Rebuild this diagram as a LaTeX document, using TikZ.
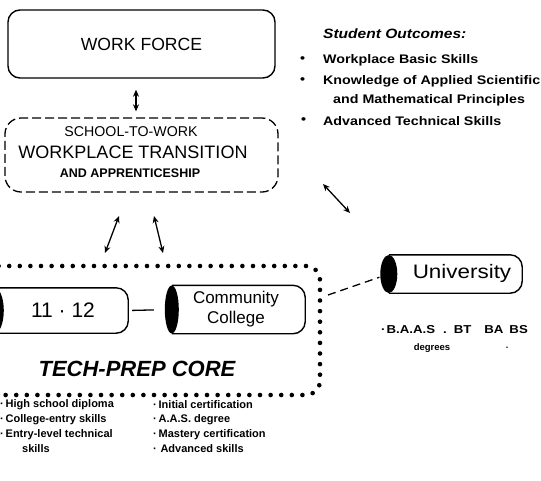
\documentclass[tikz,border=0pt]{standalone}
\usepackage{fontspec}
\setmainfont{Liberation Sans}
\newfontfamily\scan[FakeStretch=1.15]{Liberation Sans}
\usetikzlibrary{arrows.meta}
\begin{document}
\begin{tikzpicture}[x=1pt,y=-1pt,
  box/.style={draw, line width=1.4pt, rounded corners=12pt, inner sep=0pt},
  dbox/.style={draw, line width=1.3pt, rounded corners=16pt, dash pattern=on 9pt off 4pt, inner sep=0pt},
  shell/.style={inner sep=0pt},
  cylline/.style={line width=1.4pt, rounded corners=12pt},
  dar/.style={line width=1.3pt, {Stealth[length=7pt,width=6pt]}-{Stealth[length=7pt,width=6pt]}},
  dotline/.style={line width=4.6pt, line cap=round, dash pattern=on 0pt off 10.6pt, rounded corners=14pt},
  outc/.style={anchor=west, inner sep=0pt, font=\scan\bfseries\fontsize{12.4}{14}\selectfont},
  lst/.style={anchor=west, inner sep=0pt, font=\bfseries\fontsize{11}{13}\selectfont},
  plain/.style={inner sep=0pt}]
\useasboundingbox (0,0) rectangle (541,480);
\clip (0,0) rectangle (541,480);

% WORK FORCE
\node[box, minimum width=267pt, minimum height=68pt] (wf) at (141.5,44) {\fontsize{17.6}{20}\selectfont WORK FORCE};

% school-to-work
\node[dbox, minimum width=273pt, minimum height=74pt] (stw) at (141.5,155) {};
\node[plain] (t1) at (131,132) {\fontsize{14.2}{16}\selectfont SCHOOL-TO-WORK};
\node[plain] (t2) at (133,152) {\fontsize{18}{20}\selectfont WORKPLACE TRANSITION};
\node[plain] (t3) at (130,173) {\bfseries\fontsize{12.5}{14}\selectfont AND APPRENTICESHIP};

\draw[dar, shorten <=11pt, shorten >=6pt] ([xshift=-5.5pt]wf.south) -- ([xshift=-5.5pt]stw.north);

% student outcomes
\node[anchor=west, inner sep=0pt, font=\scan\bfseries\itshape\fontsize{13.5}{15}\selectfont] (so) at (323,34) {Student Outcomes:};
\node[outc] (b1) at (300,60) {•};
\node[outc] (o1) at (323,60) {Workplace Basic Skills};
\node[outc] (b2) at (300,81) {•};
\node[outc] (o2) at (323,81) {Knowledge of Applied Scientific};
\node[outc] (o2b) at (333,100) {and Mathematical Principles};
\node[outc] (b3) at (301,121) {•};
\node[outc] (o3) at (323,121) {Advanced Technical Skills};

% arrows
\coordinate (a1s) at (119,216); \coordinate (a1e) at (105,253);
\coordinate (a2s) at (154,216); \coordinate (a2e) at (163,253);
\coordinate (a3s) at (323,184); \coordinate (a3e) at (350,213);
\draw[dar] (a1s) -- (a1e);
\draw[dar] (a2s) -- (a2e);
\draw[dar] (a3s) -- (a3e);

% tech-prep core dotted frame
\draw[dotline] (-12,266) -- (320,266) -- (320,395) -- (-12,395);
\node[plain, font=\bfseries\itshape\fontsize{22}{24}\selectfont] (core) at (137,369) {TECH-PREP CORE};

% 11-12 cylinder
\node[shell, minimum width=133pt, minimum height=45pt] (hs) at (61.5,310.5) {};
\draw[cylline] (hs.north west) -- (hs.north east) -- (hs.south east) -- (hs.south west);
\fill (hs.west) ellipse (9pt and 22.5pt);
\node[plain] (hst) at (63,310) {\fontsize{21}{23}\selectfont 11 · 12};

% community college
\node[shell, minimum width=133pt, minimum height=48pt] (cc) at (238.5,309.5) {};
\draw[cylline] (cc.north west) -- (cc.north east) -- (cc.south east) -- (cc.south west);
\fill (cc.west) ellipse (7pt and 24pt);
\node[plain, align=center, font=\fontsize{17}{20}\selectfont] (cct) at (236,309) {Community\\College};

\draw[line width=1.3pt, shorten <=4pt, shorten >=18pt] (hs.east) -- (cc.west);

% university
\node[shell, minimum width=133pt, minimum height=38pt] (uni) at (455.5,274) {};
\draw[cylline] (uni.north west) -- (uni.north east) -- (uni.south east) -- (uni.south west);
\fill (uni.west) ellipse (8.5pt and 19pt);
\node[plain, font=\scan\fontsize{19.5}{21}\selectfont] (unit) at (462,273) {University};

\coordinate (cu) at (328,295);
\draw[line width=1.3pt, dash pattern=on 8pt off 5pt, shorten >=10pt] (cu) -- (uni.west);

\node[anchor=west, inner sep=0pt, font=\scan\bfseries\fontsize{11.5}{13}\selectfont] (deg1) at (381,330) {·\hspace{1pt}B.A.A.S\hspace{8pt}.\hspace{7pt}BT\hspace{13pt}BA\hspace{6pt}BS};
\node[plain, font=\bfseries\fontsize{9.5}{11}\selectfont] (deg2) at (432,348) {degrees};
\node[plain, font=\bfseries\fontsize{9}{11}\selectfont] (deg3) at (507,348) {.};

% bottom lists
\node[lst] (l1) at (0,405) {·\,High school diploma};
\node[lst] (l2) at (0,420) {·\,College-entry skills};
\node[lst] (l3) at (0,435) {·\,Entry-level technical};
\node[lst] (l4) at (22,449) {skills};
\node[lst] (r1) at (153,405) {·\,Initial certification};
\node[lst] (r2) at (153,420) {·\,A.A.S. degree};
\node[lst] (r3) at (153,435) {·\,Mastery certification};
\node[lst] (r4) at (153,449) {·\,\,Advanced skills};
\end{tikzpicture}
\end{document}
